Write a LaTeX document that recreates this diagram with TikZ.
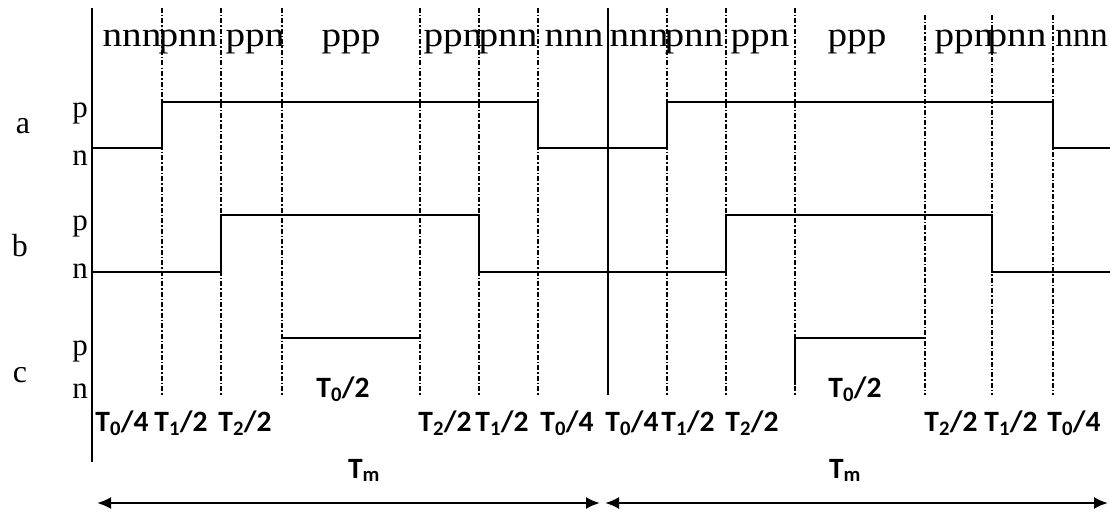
\documentclass[tikz,border=0pt]{standalone}
\usepackage{fontspec}
\setmainfont{Liberation Serif}
\newfontfamily\lblfont{Carlito}
\usetikzlibrary{arrows.meta}
\newcommand{\wide}[1]{\scalebox{1.12}[1]{#1}}
\begin{document}
\begin{tikzpicture}[x=1pt,y=-1pt,
 sig/.style={line width=2pt, line join=miter},
 divline/.style={line width=1.4pt, dash pattern=on 5pt off 2pt on 1.5pt off 2pt},
 axisline/.style={line width=2pt},
 statelbl/.style={font=\fontsize{35}{35}\selectfont, anchor=base, inner sep=0pt},
 lvl/.style={font=\fontsize{31}{31}\selectfont, anchor=base east, inner sep=0pt},
 sname/.style={font=\fontsize{32}{32}\selectfont, anchor=base, inner sep=0pt},
 tlab/.style={font=\lblfont\bfseries\fontsize{29.5}{29.5}\selectfont, anchor=base, inner sep=0pt},
 spanarrow/.style={line width=2.2pt, {Latex[length=14pt,width=12pt]}-{Latex[length=14pt,width=12pt]}},
]
\fill[white] (0,0) rectangle (1110,511);
\useasboundingbox (0,0) rectangle (1110,511);

% divider lines
\foreach \x in {162,221,282,420,479,538,667,726,795}
  \draw[divline] (\x,8) -- (\x,395);
\foreach \x in {925,992,1053}
  \draw[divline] (\x,15) -- (\x,395);

% axes
\draw[axisline] (92,8) -- (92,462);
\draw[axisline] (608,8) -- (608,395);

% signals
\draw[sig] (92,148) -| (162,102) -| (538,148) -| (667,102) -| (1053,148) -- (1110,148);
\draw[sig] (92,272) -| (221,215) -| (479,272) -| (726,215) -| (992,272) -- (1110,272);
\draw[sig] (282,338) -- (420,338);
\draw[sig] (795,385) |- (925,338);

% state labels
\node[statelbl] (s1) at (132,47) {\wide{nnn}};
\node[statelbl] (s2) at (188,47) {\wide{pnn}};
\node[statelbl] (s3) at (255,47) {\wide{ppn}};
\node[statelbl] (s4) at (351,47) {\wide{ppp}};
\node[statelbl] (s5) at (453,47) {\wide{ppn}};
\node[statelbl] (s6) at (508,47) {\wide{pnn}};
\node[statelbl] (s7) at (574,47) {\wide{nnn}};
\node[statelbl] (s8) at (639,47) {\wide{nnn}};
\node[statelbl] (s9) at (694,47) {\wide{pnn}};
\node[statelbl] (s10) at (760,47) {\wide{ppn}};
\node[statelbl] (s11) at (857,47) {\wide{ppp}};
\node[statelbl] (s12) at (964,47) {\wide{ppn}};
\node[statelbl] (s13) at (1017,47) {\wide{pnn}};
\node[statelbl, anchor=base east] (s14) at (1108,47) {nnn};

% signal names
\node[sname] (na) at (23,133) {a};
\node[sname] (nb) at (20,256) {b};
\node[sname] (nc) at (20,382) {c};

% level labels
\node[lvl] (ap) at (88,117) {p};
\node[lvl] (an) at (88,165) {n};
\node[lvl] (bp) at (88,230) {p};
\node[lvl] (bn) at (88,278) {n};
\node[lvl] (cp) at (88,355) {p};
\node[lvl] (cn) at (88,398) {n};

% time labels
\node[tlab] (t1) at (122,431) {T\textsubscript{0}/4};
\node[tlab] (t2) at (181,431) {T\textsubscript{1}/2};
\node[tlab] (t3) at (245,431) {T\textsubscript{2}/2};
\node[tlab] (t4) at (343,397) {T\textsubscript{0}/2};
\node[tlab] (t5) at (445,431) {T\textsubscript{2}/2};
\node[tlab] (t6) at (502,431) {T\textsubscript{1}/2};
\node[tlab] (t7) at (567,431) {T\textsubscript{0}/4};
\node[tlab] (t8) at (632,431) {T\textsubscript{0}/4};
\node[tlab] (t9) at (688,431) {T\textsubscript{1}/2};
\node[tlab] (t10) at (752,431) {T\textsubscript{2}/2};
\node[tlab] (t11) at (855,397) {T\textsubscript{0}/2};
\node[tlab] (t12) at (951,431) {T\textsubscript{2}/2};
\node[tlab] (t13) at (1011,431) {T\textsubscript{1}/2};
\node[tlab] (t14) at (1074,431) {T\textsubscript{0}/4};
\node[tlab] (tm1) at (364,478) {T\textsubscript{m}};
\node[tlab] (tm2) at (845,478) {T\textsubscript{m}};

% span arrows
\coordinate (arL) at (97,503);
\coordinate (arM1) at (600,503);
\coordinate (arM2) at (605,503);
\coordinate (arR) at (1108,503);
\draw[spanarrow] (arL) -- (arM1);
\draw[spanarrow] (arM2) -- (arR);
\end{tikzpicture}
\end{document}
